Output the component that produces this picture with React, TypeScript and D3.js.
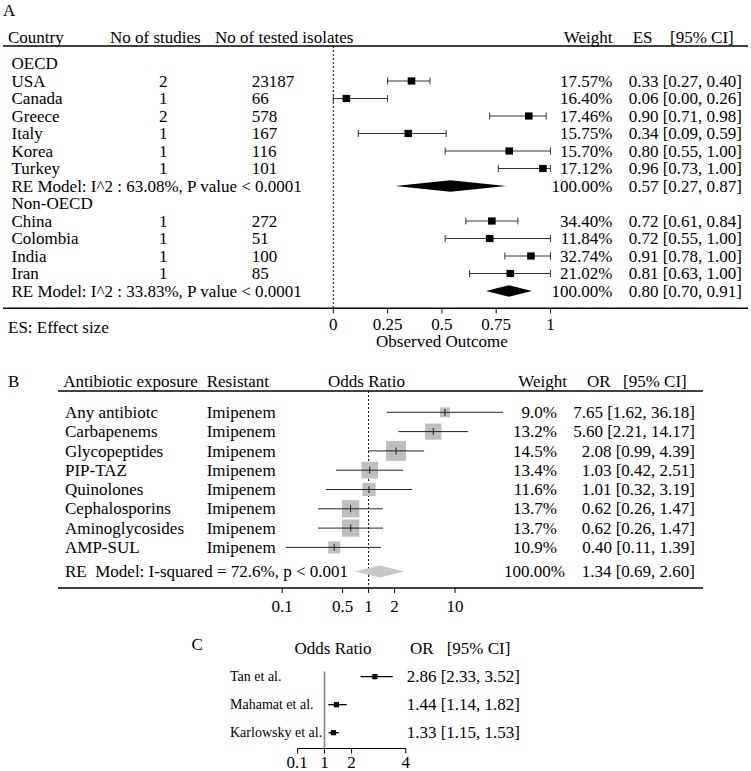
import React from "react";
import * as d3 from "d3";

// ---------- Panel A data ----------
const oecdCountries = ["USA", "Canada", "Greece", "Italy", "Korea", "Turkey"];
const oecdStudies = [2, 1, 2, 1, 1, 1];
const oecdIsolates = [23187, 66, 578, 167, 116, 101];
const oecdWeights = ["17.57%", "16.40%", "17.46%", "15.75%", "15.70%", "17.12%"];
const oecdESText = ["0.33 [0.27, 0.40]", "0.06 [0.00, 0.26]", "0.90 [0.71, 0.98]", "0.34 [0.09, 0.59]", "0.80 [0.55, 1.00]", "0.96 [0.73, 1.00]"];
const oecdEst = [0.36, 0.06, 0.9, 0.345, 0.81, 0.965];
const oecdLo = [0.25, 0.0, 0.72, 0.115, 0.515, 0.76];
const oecdHi = [0.445, 0.25, 0.98, 0.52, 1.0, 1.0];
const oecdSummary = [0.285, 0.54, 0.795];
const oecdSummaryText = ["RE Model: I^2 : 63.08%, P value < 0.0001", "100.00%", "0.57 [0.27, 0.87]"];

const nonCountries = ["China", "Colombia", "India", "Iran"];
const nonStudies = [1, 1, 1, 1];
const nonIsolates = [272, 51, 100, 85];
const nonWeights = ["34.40%", "11.84%", "32.74%", "21.02%"];
const nonESText = ["0.72 [0.61, 0.84]", "0.72 [0.55, 1.00]", "0.91 [0.78, 1.00]", "0.81 [0.63, 1.00]"];
const nonEst = [0.73, 0.72, 0.91, 0.815];
const nonLo = [0.61, 0.515, 0.79, 0.627];
const nonHi = [0.85, 1.0, 1.0, 1.0];
const nonSummary = [0.703, 0.808, 0.915];
const nonSummaryText = ["RE Model: I^2 : 33.83%, P value < 0.0001", "100.00%", "0.80 [0.70, 0.91]"];

const axisATicks = [0, 0.25, 0.5, 0.75, 1];
const axisATickLabels = ["0", "0.25", "0.5", "0.75", "1"];

// ---------- Panel B data ----------
const bExposure = ["Any antibiotc", "Carbapenems", "Glycopeptides", "PIP-TAZ", "Quinolones", "Cephalosporins", "Aminoglycosides", "AMP-SUL"];
const bResistant = ["Imipenem", "Imipenem", "Imipenem", "Imipenem", "Imipenem", "Imipenem", "Imipenem", "Imipenem"];
const bWeights = ["9.0%", "13.2%", "14.5%", "13.4%", "11.6%", "13.7%", "13.7%", "10.9%"];
const bOR = [7.65, 5.6, 2.08, 1.03, 1.01, 0.62, 0.62, 0.4];
const bLo = [1.62, 2.21, 0.99, 0.42, 0.32, 0.26, 0.26, 0.11];
const bHi = [36.18, 14.17, 4.39, 2.51, 3.19, 1.47, 1.47, 1.39];
const bSummary = [0.69, 1.34, 2.6];
const bSummaryLabel = "RE  Model: I-squared = 72.6%, p < 0.001";
const bSummaryWeight = "100.00%";
const bTicks = [0.1, 0.5, 1, 2, 10];

// ---------- Panel C data ----------
const cStudies = ["Tan et al.", "Mahamat et al.", "Karlowsky et al."];
const cOR = [2.86, 1.44, 1.33];
const cLo = [2.33, 1.14, 1.15];
const cHi = [3.52, 1.82, 1.53];
const cTicks = [0.1, 1, 2, 4];

const FONT = "'Liberation Serif', 'Times New Roman', Times, serif";
const fmt2 = (v: number) => v.toFixed(2);

export default function App() {
  // ---------- scales ----------
  const xA = d3.scaleLinear().domain([0, 1]).range([333.3, 550.5]);
  const yA = d3.scaleLinear().domain([0, 13]).range([63.5, 291]);

  const xB = d3.scaleLog().domain([0.1, 10]).range([282.2, 455]);
  const yB = d3.scaleLinear().domain([0, 7]).range([412.3, 547.4]);
  const yBSummary = 571.5;

  const xC = d3.scaleLinear().domain([1, 4]).range([324.5, 405.8]);
  const yC = d3.scaleLinear().domain([0, 2]).range([676.7, 732.7]);

  // box sizes from precision (1/se on log scale)
  const prec = bLo.map((lo, i) => 3.92 / (Math.log(bHi[i]) - Math.log(lo)));
  const boxScale = d3.scaleLinear().domain(d3.extent(prec) as [number, number]).range([10, 20]);

  const diamondPath = (x: (v: number) => number, s: number[], y: number, h: number) =>
    d3.line()([
      [x(s[0]), y],
      [x(s[1]), y - h],
      [x(s[2]), y],
      [x(s[1]), y + h],
    ]) + "Z";

  type Row = { kind: "group" | "study" | "summary"; idx: number; label: string; n?: number; iso?: number; w?: string; txt?: string; est?: number; lo?: number; hi?: number; s?: number[]; s2?: string[] };
  const rowsA: Row[] = [];
  let r = 0;
  rowsA.push({ kind: "group", idx: r++, label: "OECD" });
  oecdCountries.forEach((c, i) =>
    rowsA.push({ kind: "study", idx: r++, label: c, n: oecdStudies[i], iso: oecdIsolates[i], w: oecdWeights[i], txt: oecdESText[i], est: oecdEst[i], lo: oecdLo[i], hi: oecdHi[i] })
  );
  rowsA.push({ kind: "summary", idx: r++, label: oecdSummaryText[0], s: oecdSummary, s2: oecdSummaryText });
  rowsA.push({ kind: "group", idx: r++, label: "Non-OECD" });
  nonCountries.forEach((c, i) =>
    rowsA.push({ kind: "study", idx: r++, label: c, n: nonStudies[i], iso: nonIsolates[i], w: nonWeights[i], txt: nonESText[i], est: nonEst[i], lo: nonLo[i], hi: nonHi[i] })
  );
  rowsA.push({ kind: "summary", idx: r++, label: nonSummaryText[0], s: nonSummary, s2: nonSummaryText });

  const fs = 17;
  const bl = 5.6;
  const axisAY = 308.3;
  const axisBY = 588;
  const axisCY = 748.5;

  return (
    <svg width={751} height={771} style={{ position: "absolute", left: 0, top: 0, background: "#fff" }} fontFamily={FONT} fontSize={fs}>
      <rect x={0} y={0} width={751} height={771} fill="#fff" />
      {/* ================= Panel A ================= */}
      <text x={3} y={15.5}>A</text>
      <text x={8} y={42.5}>Country</text>
      <text x={110} y={42.5}>No of studies</text>
      <text x={215} y={42.5}>No of tested isolates</text>
      <text x={612.5} y={42.5} textAnchor="end">Weight</text>
      <text x={632.7} y={42.5}>ES</text>
      <text x={670} y={42.5}>[95% CI]</text>
      <line x1={3} x2={748} y1={46} y2={46} stroke="#000" strokeWidth={1.5} />
      <line x1={xA(0)} x2={xA(0)} y1={46} y2={axisAY} stroke="#000" strokeWidth={1} strokeDasharray="2,2" />

      {rowsA.map((row) => {
        const y = yA(row.idx);
        if (row.kind === "group") {
          return <text key={row.idx} x={11.5} y={y + bl}>{row.label}</text>;
        }
        if (row.kind === "summary") {
          return (
            <g key={row.idx}>
              <text x={11.5} y={y + bl}>{row.label}</text>
              <path d={diamondPath(xA, row.s!, y, 5.8)} fill="#000" />
              <text x={612.5} y={y + bl} textAnchor="end">{row.s2![1]}</text>
              <text x={742} y={y + bl} textAnchor="end">{row.s2![2]}</text>
            </g>
          );
        }
        return (
          <g key={row.idx}>
            <text x={11.5} y={y + bl}>{row.label}</text>
            <text x={163.3} y={y + bl} textAnchor="middle">{row.n}</text>
            <text x={251.7} y={y + bl}>{row.iso}</text>
            <line x1={xA(row.lo!)} x2={xA(row.hi!)} y1={y} y2={y} stroke="#333" strokeWidth={1} />
            <line x1={xA(row.lo!)} x2={xA(row.lo!)} y1={y - 3.5} y2={y + 3.5} stroke="#333" strokeWidth={1} />
            <line x1={xA(row.hi!)} x2={xA(row.hi!)} y1={y - 3.5} y2={y + 3.5} stroke="#333" strokeWidth={1} />
            <rect x={xA(row.est!) - 3.8} y={y - 3.6} width={7.6} height={7.2} fill="#000" />
            <text x={612.5} y={y + bl} textAnchor="end">{row.w}</text>
            <text x={742} y={y + bl} textAnchor="end">{row.txt}</text>
          </g>
        );
      })}

      <line x1={3} x2={748} y1={axisAY} y2={axisAY} stroke="#000" strokeWidth={1.5} />
      {axisATicks.map((t, i) => (
        <g key={t}>
          <line x1={xA(t)} x2={xA(t)} y1={axisAY} y2={axisAY + 5} stroke="#000" strokeWidth={1} />
          <text x={xA(t)} y={329.5} textAnchor="middle">{axisATickLabels[i]}</text>
        </g>
      ))}
      <text x={(xA(0) + xA(1)) / 2} y={346.7} textAnchor="middle">Observed Outcome</text>
      <text x={8} y={332.7}>ES: Effect size</text>

      {/* ================= Panel B ================= */}
      <text x={8} y={387}>B</text>
      <text x={63.3} y={386.5}>Antibiotic exposure</text>
      <text x={206.7} y={386.5}>Resistant</text>
      <text x={366.5} y={386.5} textAnchor="middle">Odds Ratio</text>
      <text x={567} y={386.5} textAnchor="end">Weight</text>
      <text x={587} y={386.5}>OR</text>
      <text x={623} y={386.5}>[95% CI]</text>
      <line x1={58} x2={703} y1={391} y2={391} stroke="#000" strokeWidth={1.5} />
      <line x1={xB(1)} x2={xB(1)} y1={391} y2={axisBY} stroke="#000" strokeWidth={1} strokeDasharray="2,2" />

      {bExposure.map((name, i) => {
        const y = yB(i);
        const sz = boxScale(prec[i]);
        return (
          <g key={name}>
            <text x={65} y={y + bl}>{name}</text>
            <text x={206.7} y={y + bl}>{bResistant[i]}</text>
            <rect x={xB(bOR[i]) - sz / 2} y={y - sz / 2} width={sz} height={sz} fill="#bfbfbf" />
            <line x1={xB(bLo[i])} x2={xB(bHi[i])} y1={y} y2={y} stroke="#222" strokeWidth={1} />
            <line x1={xB(bOR[i])} x2={xB(bOR[i])} y1={y - 3.5} y2={y + 3.5} stroke="#222" strokeWidth={1} />
            <text x={557} y={y + bl} textAnchor="end">{bWeights[i]}</text>
            <text x={695} y={y + bl} textAnchor="end">{`${fmt2(bOR[i])} [${fmt2(bLo[i])}, ${fmt2(bHi[i])}]`}</text>
          </g>
        );
      })}
      <text x={65} y={yBSummary + bl} style={{ whiteSpace: "pre" }}>{bSummaryLabel}</text>
      <path d={diamondPath(xB, bSummary, yBSummary, 6)} fill="#c8c8c8" />
      <text x={565} y={yBSummary + bl} textAnchor="end">{bSummaryWeight}</text>
      <text x={695} y={yBSummary + bl} textAnchor="end">{`${fmt2(bSummary[1])} [${fmt2(bSummary[0])}, ${fmt2(bSummary[2])}]`}</text>

      <line x1={58} x2={703} y1={axisBY} y2={axisBY} stroke="#000" strokeWidth={1.5} />
      {bTicks.map((t) => (
        <g key={t}>
          <line x1={xB(t)} x2={xB(t)} y1={axisBY} y2={axisBY + 5} stroke="#000" strokeWidth={1} />
          <text x={xB(t)} y={611.5} textAnchor="middle">{String(t)}</text>
        </g>
      ))}

      {/* ================= Panel C ================= */}
      <text x={191.5} y={650}>C</text>
      <text x={333} y={654} textAnchor="middle">Odds Ratio</text>
      <text x={410} y={654}>OR</text>
      <text x={446.7} y={654}>[95% CI]</text>
      <line x1={xC(1)} x2={xC(1)} y1={671.5} y2={axisCY} stroke="#7f7f7f" strokeWidth={1.5} />
      {cStudies.map((name, i) => {
        const y = yC(i);
        return (
          <g key={name}>
            <text x={230} y={y + 4.6} fontSize={14}>{name}</text>
            <line x1={xC(cLo[i])} x2={xC(cHi[i])} y1={y} y2={y} stroke="#000" strokeWidth={1.3} />
            <rect x={xC(cOR[i]) - 2.6} y={y - 2.6} width={5.2} height={5.2} fill="#000" />
            <text x={406.7} y={y + 5.6}>{`${fmt2(cOR[i])} [${fmt2(cLo[i])}, ${fmt2(cHi[i])}]`}</text>
          </g>
        );
      })}
      <line x1={xC(0.1) - 2.5} x2={xC(4)} y1={axisCY} y2={axisCY} stroke="#000" strokeWidth={1} />
      {cTicks.map((t) => (
        <g key={t}>
          <line x1={xC(t) - (t === 0.1 ? 2.5 : 0)} x2={xC(t) - (t === 0.1 ? 2.5 : 0)} y1={axisCY} y2={axisCY + 5} stroke="#000" strokeWidth={1} />
          <text x={xC(t) - (t === 0.1 ? 3 : 0)} y={768} textAnchor="middle">{String(t)}</text>
        </g>
      ))}
    </svg>
  );
}
